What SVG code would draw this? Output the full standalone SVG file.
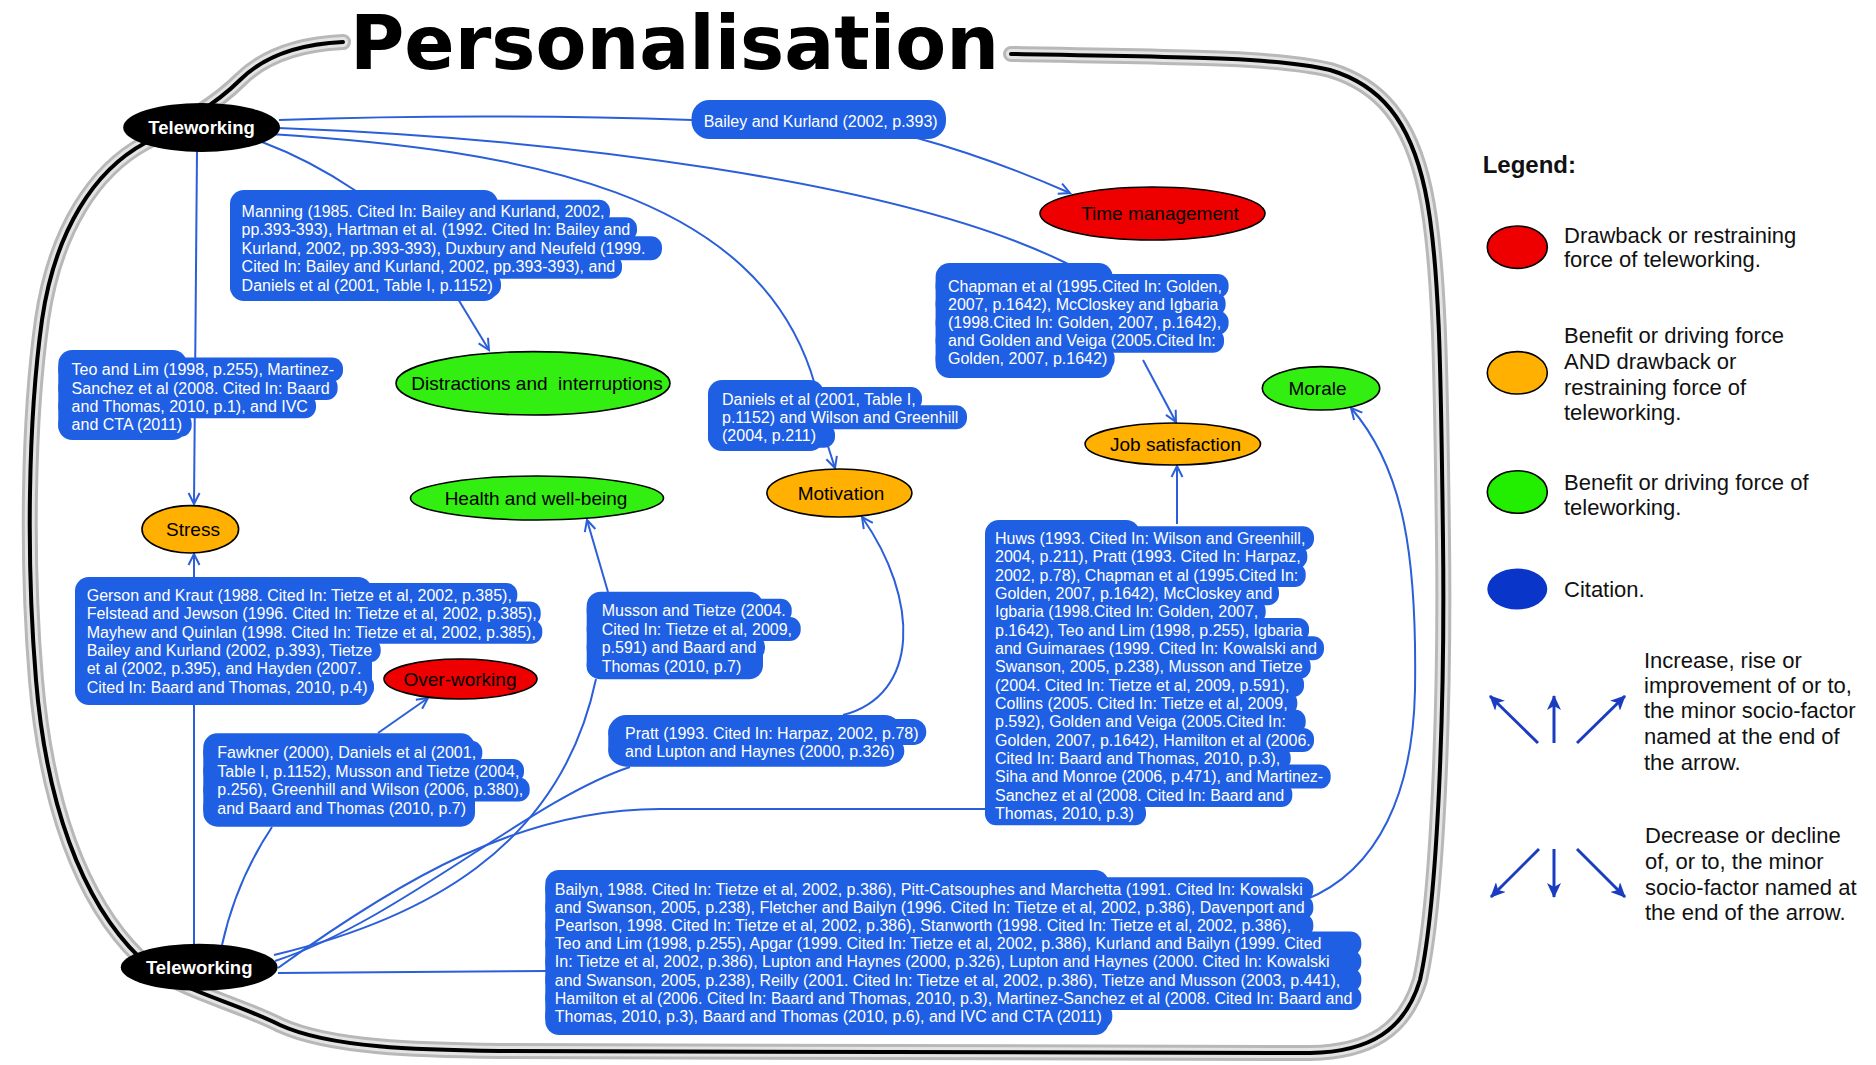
<svg xmlns="http://www.w3.org/2000/svg" width="1876" height="1065" viewBox="0 0 1876 1065">
<defs>
<style>
.cite{font-family:"Liberation Sans",Arial,sans-serif;font-size:16px;fill:#ffffff}
.box{fill:#1f5fe3}
.conn{fill:none;stroke:#2b5fd9;stroke-width:2}
.lbl{font-family:"Liberation Sans",Arial,sans-serif;font-size:19px;fill:#000;text-anchor:middle}
.tw{font-family:"Liberation Sans",Arial,sans-serif;font-size:18.5px;font-weight:bold;fill:#fff;text-anchor:middle}
.ell{stroke:#000;stroke-width:1.6}
.leg{font-family:"Liberation Sans",Arial,sans-serif;font-size:22px;fill:#111}
.larrow{stroke:#1a3cc0;stroke-width:3;fill:none}
.bd{fill:none;stroke-linecap:round}
</style>
<marker id="arr" markerUnits="userSpaceOnUse" markerWidth="14" markerHeight="14" refX="12" refY="7" orient="auto"><path d="M1,1.5 L12,7 L1,12.5" fill="none" stroke="#2b5fd9" stroke-width="2"/></marker>
<marker id="larr" markerUnits="userSpaceOnUse" markerWidth="16" markerHeight="14" refX="14" refY="7" orient="auto"><path d="M0,0 L15,7 L0,14 L4,7 Z" fill="#1a3cc0"/></marker>
<path id="bpath" d="M 343 42 C 300 44 265 55 240 80 C 215 105 180 125 145 143 C 95 170 55 230 42 320 C 28 420 26 560 36 680 C 46 800 80 900 140 958 C 175 990 230 1000 280 1025 C 330 1048 420 1050 500 1051 L 1310 1053 C 1370 1052 1405 1030 1420 980 C 1438 900 1445 700 1443 540 C 1441 380 1440 260 1425 190 C 1410 120 1380 85 1330 70 C 1280 58 1200 57 1011 54"/>
</defs>
<rect width="1876" height="1065" fill="#ffffff"/>

<g id="border">
<use href="#bpath" class="bd" stroke="#b8b8b8" stroke-width="16"/>
<use href="#bpath" class="bd" stroke="#e4e4e4" stroke-width="10"/>
<use href="#bpath" class="bd" stroke="#000" stroke-width="4"/>
</g>

<text id="title" x="350" y="69" font-family="'DejaVu Sans',Verdana,sans-serif" font-weight="bold" font-size="74" textLength="649" lengthAdjust="spacingAndGlyphs" fill="#000">Personalisation</text>

<g id="connectors">
<path class="conn" d="M 279 120 Q 480 113 692 120"/>
<path class="conn" d="M 917 138 Q 990 158 1070 193" marker-end="url(#arr)"/>
<path class="conn" d="M 278 128 C 550 138 900 180 1068 264"/>
<path class="conn" d="M 1143 360 L 1176 422" marker-end="url(#arr)"/>
<path class="conn" d="M 270 134 C 520 150 760 190 815 385"/>
<path class="conn" d="M 826 440 L 835 468" marker-end="url(#arr)"/>
<path class="conn" d="M 262 142 Q 310 160 356 191"/>
<path class="conn" d="M 458 299 L 489 350" marker-end="url(#arr)"/>
<path class="conn" d="M 197 151 L 194 504" marker-end="url(#arr)"/>
<path class="conn" d="M 194 944 L 194 554" marker-end="url(#arr)"/>
<path class="conn" d="M 222 945 C 232 900 250 860 272 827"/>
<path class="conn" d="M 378 733 L 428 698" marker-end="url(#arr)"/>
<path class="conn" d="M 274 955 C 420 920 560 850 596 679"/>
<path class="conn" d="M 608 592 L 587 520" marker-end="url(#arr)"/>
<path class="conn" d="M 275 961 C 400 920 530 800 630 767"/>
<path class="conn" d="M 843 715 C 920 695 920 600 862 517" marker-end="url(#arr)"/>
<path class="conn" d="M 278 968 C 400 880 520 809 660 809 L 985 809"/>
<path class="conn" d="M 1177 524 L 1177 466" marker-end="url(#arr)"/>
<path class="conn" d="M 278 973 L 546 971"/>
<path class="conn" d="M 1305 900 C 1380 870 1413 790 1415 690 C 1417 560 1405 470 1351 408" marker-end="url(#arr)"/>
</g>

<g id="node-teleworking-top"><ellipse cx="201.6" cy="127.4" rx="78.4" ry="24.5" fill="#000"/><text class="tw" x="201.6" y="134">Teleworking</text></g>
<g id="node-teleworking-bottom"><ellipse cx="199.2" cy="967.3" rx="78.4" ry="23.5" fill="#000"/><text class="tw" x="199.2" y="974">Teleworking</text></g>

<g id="node-time-management"><ellipse class="ell" cx="1152.5" cy="213.5" rx="112.5" ry="26.5" fill="#ee0000"/><text class="lbl" x="1160" y="220.3">Time management</text></g>
<g id="node-distractions"><ellipse class="ell" cx="533" cy="383.3" rx="137" ry="31.7" fill="#33ee11"/><text class="lbl" x="537" y="390" xml:space="preserve">Distractions and  interruptions</text></g>
<g id="node-health"><ellipse class="ell" cx="537" cy="498" rx="126.5" ry="22" fill="#33ee11"/><text class="lbl" x="536" y="504.8">Health and well-being</text></g>
<g id="node-stress"><ellipse class="ell" cx="190.3" cy="529.3" rx="48.3" ry="23.7" fill="#ffb000"/><text class="lbl" x="193" y="536">Stress</text></g>
<g id="node-motivation"><ellipse class="ell" cx="839.4" cy="493" rx="72.5" ry="24" fill="#ffb000"/><text class="lbl" x="841" y="499.8">Motivation</text></g>
<g id="node-job-satisfaction"><ellipse class="ell" cx="1172.8" cy="444" rx="87.7" ry="21" fill="#ffb000"/><text class="lbl" x="1175.5" y="450.8">Job satisfaction</text></g>
<g id="node-morale"><ellipse class="ell" cx="1321" cy="388.3" rx="58.7" ry="21.7" fill="#33ee11"/><text class="lbl" x="1317.5" y="395">Morale</text></g>
<g id="node-over-working"><ellipse class="ell" cx="460.5" cy="679" rx="76.5" ry="20" fill="#ee0000"/><text class="lbl" x="460" y="685.8">Over-working</text></g>

<g id="cite-bailey-kurland">
<rect class="box" x="691.5" y="100" width="254.5" height="39" rx="18"/>
<text class="cite" x="703.7" y="127.4">Bailey and Kurland (2002, p.393)</text>
</g>

<g id="cite-manning">
<rect class="box" x="230" y="190" width="268" height="111" rx="14"/>
<rect class="box" x="230" y="199.7" width="380" height="24" rx="11"/>
<rect class="box" x="230" y="217.3" width="407" height="24" rx="11"/>
<rect class="box" x="230" y="236.3" width="432" height="24" rx="11"/>
<rect class="box" x="230" y="254.7" width="392" height="24" rx="11"/>
<rect class="box" x="230" y="273" width="271" height="24" rx="11"/>
<text class="cite"><tspan x="241.6" y="217.4">Manning (1985. Cited In: Bailey and Kurland, 2002,</tspan><tspan x="241.6" y="235">pp.393-393), Hartman et al. (1992. Cited In: Bailey and</tspan><tspan x="241.6" y="254">Kurland, 2002, pp.393-393), Duxbury and Neufeld (1999.</tspan><tspan x="241.6" y="272.4">Cited In: Bailey and Kurland, 2002, pp.393-393), and</tspan><tspan x="241.6" y="290.7">Daniels et al (2001, Table I, p.1152)</tspan></text>
</g>

<g id="cite-chapman">
<rect class="box" x="935.6" y="263" width="177" height="115" rx="14"/>
<rect class="box" x="935.6" y="274" width="293" height="24" rx="11"/>
<rect class="box" x="935.6" y="292" width="290" height="24" rx="11"/>
<rect class="box" x="935.6" y="310.7" width="293" height="24" rx="11"/>
<rect class="box" x="935.6" y="328.7" width="288.4" height="24" rx="11"/>
<rect class="box" x="935.6" y="346.7" width="179" height="24" rx="11"/>
<text class="cite"><tspan x="948" y="291.7">Chapman et al (1995.Cited In: Golden,</tspan><tspan x="948" y="309.7">2007, p.1642), McCloskey and Igbaria</tspan><tspan x="948" y="328.4">(1998.Cited In: Golden, 2007, p.1642),</tspan><tspan x="948" y="346.4">and Golden and Veiga (2005.Cited In:</tspan><tspan x="948" y="364.4">Golden, 2007, p.1642)</tspan></text>
</g>

<g id="cite-teo-lim">
<rect class="box" x="58.3" y="350" width="128.5" height="90" rx="14"/>
<rect class="box" x="58.3" y="357.5" width="284.7" height="24" rx="11"/>
<rect class="box" x="58.3" y="375.9" width="279.3" height="24" rx="11"/>
<rect class="box" x="58.3" y="394.2" width="257.7" height="24" rx="11"/>
<rect class="box" x="58.3" y="412.6" width="133.4" height="24" rx="11"/>
<text class="cite"><tspan x="71.6" y="375.2">Teo and Lim (1998, p.255), Martinez-</tspan><tspan x="71.6" y="393.6">Sanchez et al (2008. Cited In: Baard</tspan><tspan x="71.6" y="411.9">and Thomas, 2010, p.1), and IVC</tspan><tspan x="71.6" y="430.3">and CTA (2011)</tspan></text>
</g>

<g id="cite-daniels">
<rect class="box" x="708" y="380" width="116" height="71" rx="14"/>
<rect class="box" x="708" y="387" width="214" height="24" rx="11"/>
<rect class="box" x="708" y="405.3" width="259" height="24" rx="11"/>
<rect class="box" x="708" y="423.7" width="127" height="24" rx="11"/>
<text class="cite"><tspan x="722" y="404.7">Daniels et al (2001, Table I,</tspan><tspan x="722" y="423">p.1152) and Wilson and Greenhill</tspan><tspan x="722" y="441.4">(2004, p.211)</tspan></text>
</g>

<g id="cite-gerson">
<rect class="box" x="75" y="577" width="297" height="128" rx="14"/>
<rect class="box" x="75" y="583" width="442.3" height="24" rx="11"/>
<rect class="box" x="75" y="601.4" width="465.7" height="24" rx="11"/>
<rect class="box" x="75" y="619.8" width="467.3" height="24" rx="11"/>
<rect class="box" x="75" y="638.2" width="305.7" height="24" rx="11"/>
<rect class="box" x="75" y="656.6" width="292.3" height="24" rx="11"/>
<rect class="box" x="75" y="675" width="299" height="24" rx="11"/>
<text class="cite"><tspan x="86.7" y="600.7">Gerson and Kraut (1988. Cited In: Tietze et al, 2002, p.385),</tspan><tspan x="86.7" y="619.1">Felstead and Jewson (1996. Cited In: Tietze et al, 2002, p.385),</tspan><tspan x="86.7" y="637.5">Mayhew and Quinlan (1998. Cited In: Tietze et al, 2002, p.385),</tspan><tspan x="86.7" y="655.9">Bailey and Kurland (2002, p.393), Tietze</tspan><tspan x="86.7" y="674.3">et al (2002, p.395), and Hayden (2007.</tspan><tspan x="86.7" y="692.7">Cited In: Baard and Thomas, 2010, p.4)</tspan></text>
</g>

<g id="cite-musson-tietze">
<rect class="box" x="586.7" y="591.7" width="176.3" height="87.6" rx="14"/>
<rect class="box" x="586.7" y="598.7" width="205" height="24" rx="11"/>
<rect class="box" x="586.7" y="617" width="214" height="24" rx="11"/>
<rect class="box" x="586.7" y="635.4" width="178.3" height="24" rx="11"/>
<rect class="box" x="586.7" y="653.8" width="162.3" height="24" rx="11"/>
<text class="cite"><tspan x="601.7" y="616.4">Musson and Tietze (2004.</tspan><tspan x="601.7" y="634.7">Cited In: Tietze et al, 2009,</tspan><tspan x="601.7" y="653.1">p.591) and Baard and</tspan><tspan x="601.7" y="671.5">Thomas (2010, p.7)</tspan></text>
</g>

<g id="cite-fawkner">
<rect class="box" x="203.3" y="733.3" width="271.7" height="93.4" rx="14"/>
<rect class="box" x="203.3" y="740.7" width="279" height="24" rx="11"/>
<rect class="box" x="203.3" y="759.1" width="320.7" height="24" rx="11"/>
<rect class="box" x="203.3" y="777.5" width="326.4" height="24" rx="11"/>
<rect class="box" x="203.3" y="795.9" width="270.7" height="24" rx="11"/>
<text class="cite"><tspan x="217.3" y="758.4">Fawkner (2000), Daniels et al (2001,</tspan><tspan x="217.3" y="776.8">Table I, p.1152), Musson and Tietze (2004,</tspan><tspan x="217.3" y="795.2">p.256), Greenhill and Wilson (2006, p.380),</tspan><tspan x="217.3" y="813.6">and Baard and Thomas (2010, p.7)</tspan></text>
</g>

<g id="cite-pratt">
<rect class="box" x="608.3" y="715" width="294" height="51.7" rx="18"/>
<rect class="box" x="608.3" y="719" width="318" height="26" rx="13"/>
<rect class="box" x="608.3" y="738" width="296" height="26" rx="13"/>
<text class="cite"><tspan x="625" y="739">Pratt (1993. Cited In: Harpaz, 2002, p.78)</tspan><tspan x="625" y="757.4">and Lupton and Haynes (2000, p.326)</tspan></text>
</g>

<g id="cite-huws">
<rect class="box" x="985" y="520" width="155" height="305" rx="14"/>
<rect class="box" x="985" y="526.3" width="329" height="24" rx="11"/>
<rect class="box" x="985" y="544.6" width="322.3" height="24" rx="11"/>
<rect class="box" x="985" y="563" width="320.7" height="24" rx="11"/>
<rect class="box" x="985" y="581.3" width="294" height="24" rx="11"/>
<rect class="box" x="985" y="599.6" width="280.7" height="24" rx="11"/>
<rect class="box" x="985" y="617.9" width="324" height="24" rx="11"/>
<rect class="box" x="985" y="636.3" width="339" height="24" rx="11"/>
<rect class="box" x="985" y="654.6" width="325.7" height="24" rx="11"/>
<rect class="box" x="985" y="672.9" width="319" height="24" rx="11"/>
<rect class="box" x="985" y="691.3" width="312.3" height="24" rx="11"/>
<rect class="box" x="985" y="709.6" width="320.7" height="24" rx="11"/>
<rect class="box" x="985" y="727.9" width="329" height="24" rx="11"/>
<rect class="box" x="985" y="746.3" width="305.7" height="24" rx="11"/>
<rect class="box" x="985" y="764.6" width="345.7" height="24" rx="11"/>
<rect class="box" x="985" y="782.9" width="307.3" height="24" rx="11"/>
<rect class="box" x="985" y="801.3" width="161" height="24" rx="11"/>
<text class="cite"><tspan x="995" y="544">Huws (1993. Cited In: Wilson and Greenhill,</tspan><tspan x="995" y="562.3">2004, p.211), Pratt (1993. Cited In: Harpaz,</tspan><tspan x="995" y="580.7">2002, p.78), Chapman et al (1995.Cited In:</tspan><tspan x="995" y="599">Golden, 2007, p.1642), McCloskey and</tspan><tspan x="995" y="617.3">Igbaria (1998.Cited In: Golden, 2007,</tspan><tspan x="995" y="635.6">p.1642), Teo and Lim (1998, p.255), Igbaria</tspan><tspan x="995" y="654">and Guimaraes (1999. Cited In: Kowalski and</tspan><tspan x="995" y="672.3">Swanson, 2005, p.238), Musson and Tietze</tspan><tspan x="995" y="690.6">(2004. Cited In: Tietze et al, 2009, p.591),</tspan><tspan x="995" y="709">Collins (2005. Cited In: Tietze et al, 2009,</tspan><tspan x="995" y="727.3">p.592), Golden and Veiga (2005.Cited In:</tspan><tspan x="995" y="745.6">Golden, 2007, p.1642), Hamilton et al (2006.</tspan><tspan x="995" y="764">Cited In: Baard and Thomas, 2010, p.3),</tspan><tspan x="995" y="782.3">Siha and Monroe (2006, p.471), and Martinez-</tspan><tspan x="995" y="800.6">Sanchez et al (2008. Cited In: Baard and</tspan><tspan x="995" y="819">Thomas, 2010, p.3)</tspan></text>
</g>

<g id="cite-bailyn">
<rect class="box" x="545.3" y="870" width="563.7" height="165" rx="14"/>
<rect class="box" x="545.3" y="877.3" width="768" height="24" rx="11"/>
<rect class="box" x="545.3" y="895.4" width="768" height="24" rx="11"/>
<rect class="box" x="545.3" y="913.5" width="768" height="24" rx="11"/>
<rect class="box" x="545.3" y="931.6" width="816" height="24" rx="11"/>
<rect class="box" x="545.3" y="949.7" width="816" height="24" rx="11"/>
<rect class="box" x="545.3" y="967.8" width="816" height="24" rx="11"/>
<rect class="box" x="545.3" y="985.9" width="816" height="24" rx="11"/>
<rect class="box" x="545.3" y="1004" width="567" height="24" rx="11"/>
<text class="cite"><tspan x="554.8" y="895">Bailyn, 1988. Cited In: Tietze et al, 2002, p.386), Pitt-Catsouphes and Marchetta (1991. Cited In: Kowalski</tspan><tspan x="554.8" y="913.1">and Swanson, 2005, p.238), Fletcher and Bailyn (1996. Cited In: Tietze et al, 2002, p.386), Davenport and</tspan><tspan x="554.8" y="931.2">Pearlson, 1998. Cited In: Tietze et al, 2002, p.386), Stanworth (1998. Cited In: Tietze et al, 2002, p.386),</tspan><tspan x="554.8" y="949.3">Teo and Lim (1998, p.255), Apgar (1999. Cited In: Tietze et al, 2002, p.386), Kurland and Bailyn (1999. Cited</tspan><tspan x="554.8" y="967.4">In: Tietze et al, 2002, p.386), Lupton and Haynes (2000, p.326), Lupton and Haynes (2000. Cited In: Kowalski</tspan><tspan x="554.8" y="985.5">and Swanson, 2005, p.238), Reilly (2001. Cited In: Tietze et al, 2002, p.386), Tietze and Musson (2003, p.441),</tspan><tspan x="554.8" y="1003.6">Hamilton et al (2006. Cited In: Baard and Thomas, 2010, p.3), Martinez-Sanchez et al (2008. Cited In: Baard and</tspan><tspan x="554.8" y="1021.7">Thomas, 2010, p.3), Baard and Thomas (2010, p.6), and IVC and CTA (2011)</tspan></text>
</g>

<g id="legend">
<text x="1482.7" y="172.7" font-family="'Liberation Sans',Arial,sans-serif" font-weight="bold" font-size="24" fill="#111">Legend:</text>
<ellipse class="ell" cx="1517.3" cy="247.2" rx="30" ry="21.2" fill="#ee0000"/>
<text class="leg"><tspan x="1564" y="243.3">Drawback or restraining</tspan><tspan x="1564" y="267.3">force of teleworking.</tspan></text>
<ellipse class="ell" cx="1517.3" cy="372.8" rx="30" ry="21.2" fill="#ffb000"/>
<text class="leg"><tspan x="1564" y="343.3">Benefit or driving force</tspan><tspan x="1564" y="369.3">AND drawback or</tspan><tspan x="1564" y="395">restraining force of</tspan><tspan x="1564" y="420">teleworking.</tspan></text>
<ellipse class="ell" cx="1517.3" cy="492" rx="30" ry="21.2" fill="#22ee00"/>
<text class="leg"><tspan x="1564" y="490">Benefit or driving force of</tspan><tspan x="1564" y="515">teleworking.</tspan></text>
<ellipse cx="1517.3" cy="589" rx="30" ry="20.5" fill="#0a35c9"/>
<text class="leg" x="1564" y="596.5">Citation.</text>
<path class="larrow" d="M 1538 743 L 1490 696" marker-end="url(#larr)"/>
<path class="larrow" d="M 1554 743 L 1554 696" marker-end="url(#larr)"/>
<path class="larrow" d="M 1577 743 L 1625 696" marker-end="url(#larr)"/>
<text class="leg"><tspan x="1644" y="667.7">Increase, rise or</tspan><tspan x="1644" y="693.3">improvement of or to,</tspan><tspan x="1644" y="718.3">the minor socio-factor</tspan><tspan x="1644" y="744">named at the end of</tspan><tspan x="1644" y="770">the arrow.</tspan></text>
<path class="larrow" d="M 1539 849 L 1491 897" marker-end="url(#larr)"/>
<path class="larrow" d="M 1554 849 L 1554 897" marker-end="url(#larr)"/>
<path class="larrow" d="M 1577 849 L 1625 897" marker-end="url(#larr)"/>
<text class="leg"><tspan x="1645" y="843.3">Decrease or decline</tspan><tspan x="1645" y="869.3">of, or to, the minor</tspan><tspan x="1645" y="895">socio-factor named at</tspan><tspan x="1645" y="920">the end of the arrow.</tspan></text>
</g>
</svg>
